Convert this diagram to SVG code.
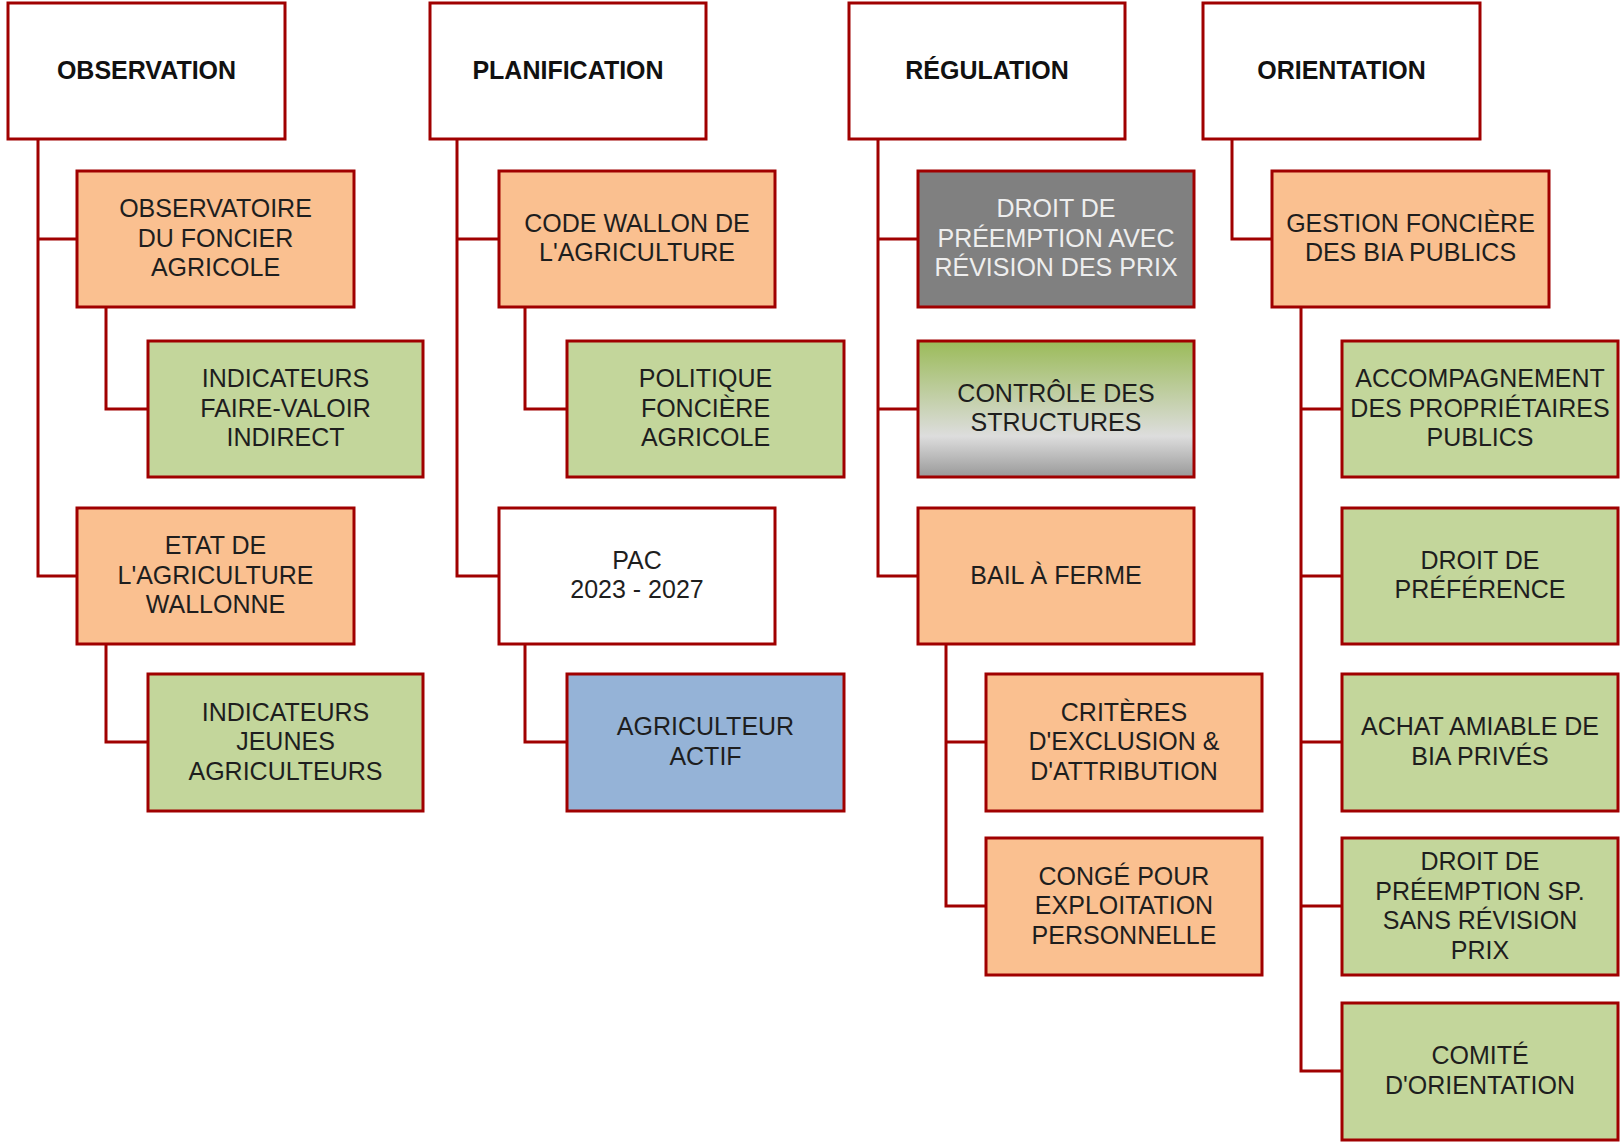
<svg xmlns="http://www.w3.org/2000/svg" width="1622" height="1143" viewBox="0 0 1622 1143">
<style>
.b{stroke:#A00000;stroke-width:3}
.w{fill:#FFFFFF}
.o{fill:#FAC090}
.g{fill:#C3D69B}
.bl{fill:#95B3D7}
.gr{fill:#808080}
.ct{fill:url(#ctrl)}
text{font-family:"Liberation Sans",Arial,sans-serif;font-size:25px;fill:#1E1E1E;text-anchor:middle}
.h{font-weight:bold;fill:#111111}
.lt{fill:#EEEEEE}
.c{fill:none;stroke:#A00000;stroke-width:3}
</style>
<defs>
<linearGradient id="ctrl" x1="0" y1="0" x2="0" y2="1">
<stop offset="0" stop-color="#9BBB59"/>
<stop offset="0.7" stop-color="#DDDDDD"/>
<stop offset="1" stop-color="#999999"/>
</linearGradient>
</defs>
<rect width="1622" height="1143" fill="#FFFFFF"/>
<g id="connectors">
<path class="c" d="M38 139V576H77M38 239H77"/>
<path class="c" d="M106 307V409H148"/>
<path class="c" d="M106 644V742H148"/>
<path class="c" d="M457 139V576H499M457 239H499"/>
<path class="c" d="M525 307V409H567"/>
<path class="c" d="M525 644V742H567"/>
<path class="c" d="M878 139V576H918M878 239H918M878 409H918"/>
<path class="c" d="M946 644V906H986M946 742H986"/>
<path class="c" d="M1232 139V239H1272"/>
<path class="c" d="M1301 307V1071H1342M1301 409H1342M1301 576H1342M1301 742H1342M1301 906H1342"/>
</g>
<g id="n-observation"><rect class="b w" x="8" y="3" width="277" height="136"/><text class="h" x="146.5" y="79">OBSERVATION</text></g>
<g id="n-planification"><rect class="b w" x="430" y="3" width="276" height="136"/><text class="h" x="568" y="79">PLANIFICATION</text></g>
<g id="n-regulation"><rect class="b w" x="849" y="3" width="276" height="136"/><text class="h" x="987" y="79">RÉGULATION</text></g>
<g id="n-orientation"><rect class="b w" x="1203" y="3" width="277" height="136"/><text class="h" x="1341.5" y="79">ORIENTATION</text></g>

<g id="n-observatoire"><rect class="b o" x="77" y="171" width="277" height="136"/><text x="215.5" y="217"><tspan x="215.5">OBSERVATOIRE</tspan><tspan x="215.5" dy="29.5">DU FONCIER</tspan><tspan x="215.5" dy="29.5">AGRICOLE</tspan></text></g>
<g id="n-ind-fvi"><rect class="b g" x="148" y="341" width="275" height="136"/><text x="285.5" y="387"><tspan x="285.5">INDICATEURS</tspan><tspan x="285.5" dy="29.5">FAIRE-VALOIR</tspan><tspan x="285.5" dy="29.5">INDIRECT</tspan></text></g>
<g id="n-etat"><rect class="b o" x="77" y="508" width="277" height="136"/><text x="215.5" y="554"><tspan x="215.5">ETAT DE</tspan><tspan x="215.5" dy="29.5">L'AGRICULTURE</tspan><tspan x="215.5" dy="29.5">WALLONNE</tspan></text></g>
<g id="n-ind-ja"><rect class="b g" x="148" y="674" width="275" height="137"/><text x="285.5" y="720.5"><tspan x="285.5">INDICATEURS</tspan><tspan x="285.5" dy="29.5">JEUNES</tspan><tspan x="285.5" dy="29.5">AGRICULTEURS</tspan></text></g>

<g id="n-code"><rect class="b o" x="499" y="171" width="276" height="136"/><text x="637" y="231.5"><tspan x="637">CODE WALLON DE</tspan><tspan x="637" dy="29.5">L'AGRICULTURE</tspan></text></g>
<g id="n-politique"><rect class="b g" x="567" y="341" width="277" height="136"/><text x="705.5" y="387"><tspan x="705.5">POLITIQUE</tspan><tspan x="705.5" dy="29.5">FONCIÈRE</tspan><tspan x="705.5" dy="29.5">AGRICOLE</tspan></text></g>
<g id="n-pac"><rect class="b w" x="499" y="508" width="276" height="136"/><text x="637" y="568.5"><tspan x="637">PAC</tspan><tspan x="637" dy="29.5">2023 - 2027</tspan></text></g>
<g id="n-actif"><rect class="b bl" x="567" y="674" width="277" height="137"/><text x="705.5" y="735"><tspan x="705.5">AGRICULTEUR</tspan><tspan x="705.5" dy="29.5">ACTIF</tspan></text></g>

<g id="n-preemption"><rect class="b gr" x="918" y="171" width="276" height="136"/><text class="lt" x="1056" y="217"><tspan x="1056">DROIT DE</tspan><tspan x="1056" dy="29.5">PRÉEMPTION AVEC</tspan><tspan x="1056" dy="29.5">RÉVISION DES PRIX</tspan></text></g>
<g id="n-controle"><rect class="b ct" x="918" y="341" width="276" height="136"/><text x="1056" y="401.5"><tspan x="1056">CONTRÔLE DES</tspan><tspan x="1056" dy="29.5">STRUCTURES</tspan></text></g>
<g id="n-bail"><rect class="b o" x="918" y="508" width="276" height="136"/><text x="1056" y="584">BAIL À FERME</text></g>
<g id="n-criteres"><rect class="b o" x="986" y="674" width="276" height="137"/><text x="1124" y="720.5"><tspan x="1124">CRITÈRES</tspan><tspan x="1124" dy="29.5">D'EXCLUSION &amp;</tspan><tspan x="1124" dy="29.5">D'ATTRIBUTION</tspan></text></g>
<g id="n-conge"><rect class="b o" x="986" y="838" width="276" height="137"/><text x="1124" y="884.5"><tspan x="1124">CONGÉ POUR</tspan><tspan x="1124" dy="29.5">EXPLOITATION</tspan><tspan x="1124" dy="29.5">PERSONNELLE</tspan></text></g>

<g id="n-gestion"><rect class="b o" x="1272" y="171" width="277" height="136"/><text x="1410.5" y="231.5"><tspan x="1410.5">GESTION FONCIÈRE</tspan><tspan x="1410.5" dy="29.5">DES BIA PUBLICS</tspan></text></g>
<g id="n-accomp"><rect class="b g" x="1342" y="341" width="276" height="136"/><text x="1480" y="387"><tspan x="1480">ACCOMPAGNEMENT</tspan><tspan x="1480" dy="29.5">DES PROPRIÉTAIRES</tspan><tspan x="1480" dy="29.5">PUBLICS</tspan></text></g>
<g id="n-preference"><rect class="b g" x="1342" y="508" width="276" height="136"/><text x="1480" y="568.5"><tspan x="1480">DROIT DE</tspan><tspan x="1480" dy="29.5">PRÉFÉRENCE</tspan></text></g>
<g id="n-achat"><rect class="b g" x="1342" y="674" width="276" height="137"/><text x="1480" y="735"><tspan x="1480">ACHAT AMIABLE DE</tspan><tspan x="1480" dy="29.5">BIA PRIVÉS</tspan></text></g>
<g id="n-preemption-sp"><rect class="b g" x="1342" y="838" width="276" height="137"/><text x="1480" y="870"><tspan x="1480">DROIT DE</tspan><tspan x="1480" dy="29.5">PRÉEMPTION SP.</tspan><tspan x="1480" dy="29.5">SANS RÉVISION</tspan><tspan x="1480" dy="29.5">PRIX</tspan></text></g>
<g id="n-comite"><rect class="b g" x="1342" y="1003" width="276" height="137"/><text x="1480" y="1064"><tspan x="1480">COMITÉ</tspan><tspan x="1480" dy="29.5">D'ORIENTATION</tspan></text></g>
</svg>
